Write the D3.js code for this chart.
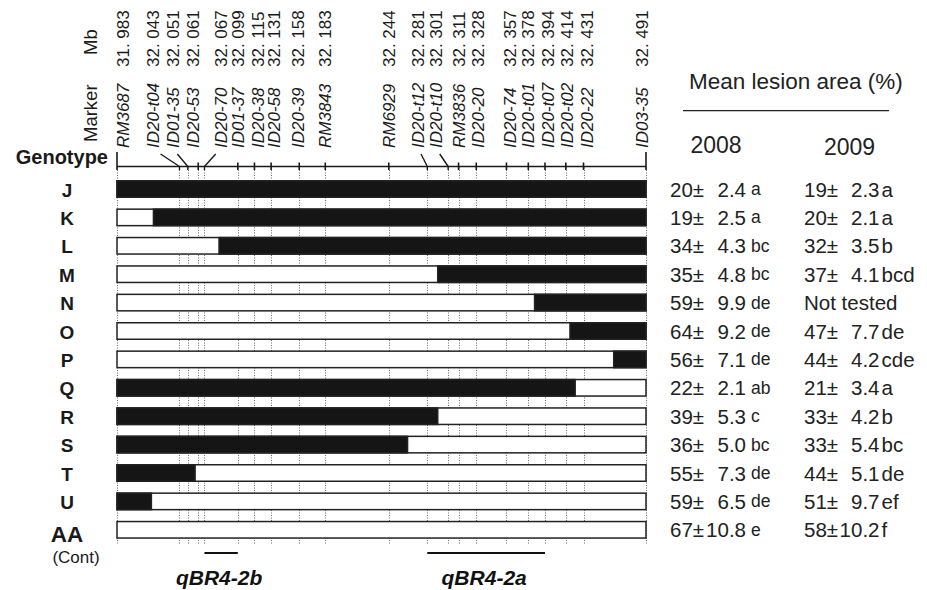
<!DOCTYPE html>
<html>
<head>
<meta charset="utf-8">
<script src="https://cdn.jsdelivr.net/npm/d3@7"></script>
<style>
  body { margin: 0; background: #fff; }
  svg { font-family: "Liberation Sans", Arial, Helvetica, sans-serif; }
</style>
</head>
<body>
<div id="chart"></div>
<script>
// markers along the chromosome segment
const markers = ["RM3687", "ID20-t04", "ID01-35", "ID20-53", "ID20-70", "ID01-37", "ID20-38", "ID20-58", "ID20-39", "RM3843",
  "RM6929", "ID20-t12", "ID20-t10", "RM3836", "ID20-20", "ID20-74", "ID20-t01", "ID20-t07", "ID20-t02", "ID20-22", "ID03-35"];
const markerMb = [31.983, 32.043, 32.051, 32.061, 32.067, 32.099, 32.115, 32.131, 32.158, 32.183,
  32.244, 32.281, 32.301, 32.311, 32.328, 32.357, 32.378, 32.394, 32.414, 32.431, 32.491];

// graphical genotypes: allele on the left side, and where it switches (Mb)
const genotypes = ["J", "K", "L", "M", "N", "O", "P", "Q", "R", "S", "T", "U", "AA"];
const leftIsBlack = [1, 0, 0, 0, 0, 0, 0, 1, 1, 1, 1, 1, 0];
const switchMb = [32.491, 32.018, 32.081, 32.291, 32.384, 32.418, 32.460, 32.423, 32.291, 32.262, 32.058, 32.016, 32.491];

// mean lesion area (%)
const mean2008 = [20, 19, 34, 35, 59, 64, 56, 22, 39, 36, 55, 59, 67];
const se2008 = [2.4, 2.5, 4.3, 4.8, 9.9, 9.2, 7.1, 2.1, 5.3, 5.0, 7.3, 6.5, 10.8];
const group2008 = ["a", "a", "bc", "bc", "de", "de", "de", "ab", "c", "bc", "de", "de", "e"];
const mean2009 = [19, 20, 32, 37, null, 47, 44, 21, 33, 33, 44, 51, 58];
const se2009 = [2.3, 2.1, 3.5, 4.1, null, 7.7, 4.2, 3.4, 4.2, 5.4, 5.1, 9.7, 10.2];
const group2009 = ["a", "a", "b", "bcd", null, "de", "cde", "a", "b", "bc", "de", "ef", "f"];

// QTL intervals
const qtlNames = ["qBR4-2b", "qBR4-2a"];
const qtlStart = [32.067, 32.281];
const qtlEnd = [32.099, 32.394];

const width = 927, height = 590;
const ink = "#1a1a1a";

const svg = d3.select("#chart").append("svg")
  .attr("width", width)
  .attr("height", height);

svg.append("rect").attr("width", width).attr("height", height).attr("fill", "#fff");

const x = d3.scaleLinear()
  .domain(d3.extent(markerMb))
  .range([117, 646]);

const y = d3.scalePoint()
  .domain(genotypes)
  .range([189, 529.8]);

const barH = 16.5;
const axisY = 166.5;

// label shifts for crowded markers
const labelNudge = {
  "RM3687": 5.5, "ID20-t04": -27, "ID01-35": -15, "ID20-53": -5.5, "ID20-70": 16,
  "ID20-38": 3, "ID20-58": 3, "ID20-39": -1.5, "ID20-t12": -9, "ID20-t10": -12,
  "ID20-20": 2, "ID20-74": 3, "ID20-t07": 2.5, "ID20-t02": 1.5, "ID20-22": 3, "ID03-35": -4.5
};
const mk = markers.map((m, i) => {
  const tx = x(markerMb[i]);
  const n = labelNudge[m] || 0;
  return { name: m, mb: markerMb[i], tx: tx, lx: tx + n, nudge: n };
});

// dotted guide lines
svg.append("g").selectAll("line")
  .data(mk)
  .join("line")
  .attr("x1", d => Math.round(d.tx) + 0.5).attr("x2", d => Math.round(d.tx) + 0.5)
  .attr("y1", axisY + 1).attr("y2", 545)
  .attr("stroke", "#6a6a6a")
  .attr("stroke-width", 1)
  .attr("stroke-dasharray", "1,1.5");

// axis line and ticks
svg.append("line")
  .attr("x1", x.range()[0]).attr("x2", x.range()[1])
  .attr("y1", axisY).attr("y2", axisY)
  .attr("stroke", ink).attr("stroke-width", 1.5);

const ticks = svg.append("g");
mk.forEach((d, i) => {
  const isEnd = i === 0 || i === mk.length - 1;
  if (Math.abs(d.nudge) > 6) {
    ticks.append("line")
      .attr("x1", d.lx + 0.3 * (d.tx - d.lx)).attr("y1", 154)
      .attr("x2", d.tx).attr("y2", axisY)
      .attr("stroke", ink).attr("stroke-width", 1.4);
    ticks.append("line")
      .attr("x1", d.tx).attr("x2", d.tx)
      .attr("y1", axisY).attr("y2", 170)
      .attr("stroke", ink).attr("stroke-width", 1.4);
  } else {
    ticks.append("line")
      .attr("x1", d.tx).attr("x2", d.tx)
      .attr("y1", isEnd ? 152 : 162.5).attr("y2", 170)
      .attr("stroke", ink).attr("stroke-width", 1.6);
  }
});

// marker names and positions
svg.append("g").selectAll("text")
  .data(mk)
  .join("text")
  .attr("transform", d => `translate(${d.lx},148) rotate(-90)`)
  .attr("dy", "0.36em")
  .attr("font-size", 17)
  .attr("font-style", "italic")
  .attr("fill", ink)
  .text(d => d.name);

svg.append("g").selectAll("text")
  .data(mk)
  .join("text")
  .attr("transform", d => `translate(${d.lx},67) rotate(-90)`)
  .attr("dy", "0.36em")
  .attr("font-size", 17)
  .attr("fill", ink)
  .text(d => d3.format(".3f")(d.mb).replace(".", ". "));

svg.append("text")
  .attr("transform", "translate(90,55) rotate(-90)")
  .attr("dy", "0.36em")
  .attr("font-size", 18.5)
  .attr("fill", ink)
  .text("Mb");

svg.append("text")
  .attr("transform", "translate(90,142) rotate(-90)")
  .attr("dy", "0.36em")
  .attr("font-size", 18.5)
  .attr("fill", ink)
  .text("Marker");

svg.append("text")
  .attr("x", 108).attr("y", 164)
  .attr("text-anchor", "end")
  .attr("font-size", 20)
  .attr("font-weight", "bold")
  .attr("fill", ink)
  .text("Genotype");

// bars
const rows = svg.append("g").selectAll("g")
  .data(genotypes)
  .join("g");

rows.append("rect")
  .attr("x", x.range()[0])
  .attr("y", d => y(d) - barH / 2)
  .attr("width", x.range()[1] - x.range()[0])
  .attr("height", barH)
  .attr("fill", "#fff")
  .attr("stroke", "#222")
  .attr("stroke-width", 1.5);

rows.each(function (g, i) {
  const a = leftIsBlack[i] ? x.range()[0] : x(switchMb[i]);
  const b = leftIsBlack[i] ? x(switchMb[i]) : x.range()[1];
  if (b - a > 0.5) {
    d3.select(this).append("rect")
      .attr("x", a).attr("y", y(g) - barH / 2)
      .attr("width", b - a).attr("height", barH)
      .attr("fill", "#151515")
      .attr("stroke", "#222")
      .attr("stroke-width", 1.5);
  }
});

// genotype labels
svg.append("g").selectAll("text")
  .data(genotypes)
  .join("text")
  .attr("x", 67)
  .attr("y", d => y(d) + (d === "AA" ? 12 : 7.5))
  .attr("text-anchor", "middle")
  .attr("font-size", d => d === "AA" ? 22.5 : 19)
  .attr("font-weight", "bold")
  .attr("fill", ink)
  .text(d => d);

svg.append("text")
  .attr("x", 76).attr("y", 563)
  .attr("text-anchor", "middle")
  .attr("font-size", 17)
  .attr("fill", ink)
  .text("(Cont)");

// QTL intervals
const qtl = svg.append("g");
qtlNames.forEach((q, i) => {
  qtl.append("line")
    .attr("x1", x(qtlStart[i])).attr("x2", x(qtlEnd[i]))
    .attr("y1", 553).attr("y2", 553)
    .attr("stroke", "#111").attr("stroke-width", 2);
  qtl.append("text")
    .attr("x", (x(qtlStart[i]) + x(qtlEnd[i])) / 2 - 2)
    .attr("y", 585)
    .attr("text-anchor", "middle")
    .attr("font-size", 21)
    .attr("font-weight", "bold")
    .attr("font-style", "italic")
    .attr("fill", "#111")
    .text(q);
});

// table of lesion area
const tbl = svg.append("g").attr("fill", "#222");
tbl.append("text")
  .attr("x", 689).attr("y", 89)
  .attr("font-size", 22.5)
  .text("Mean lesion area (%)");
svg.append("line")
  .attr("x1", 683).attr("x2", 889)
  .attr("y1", 110.7).attr("y2", 110.7)
  .attr("stroke", "#222").attr("stroke-width", 1.3);
tbl.append("text").attr("x", 690.5).attr("y", 152.5).attr("font-size", 23).text("2008");
tbl.append("text").attr("x", 824).attr("y", 155).attr("font-size", 23).text("2009");

const fs = 20.5;
genotypes.forEach((g, i) => {
  const by = y(g) + 7.5;
  tbl.append("text").attr("x", 670).attr("y", by).attr("font-size", fs).text(mean2008[i] + "±");
  tbl.append("text").attr("x", 746).attr("y", by).attr("font-size", fs)
    .attr("text-anchor", "end").text(se2008[i].toFixed(1));
  tbl.append("text").attr("x", 751).attr("y", by - 1.5).attr("font-size", 17.5).text(group2008[i]);
  if (mean2009[i] == null) {
    tbl.append("text").attr("x", 804).attr("y", by).attr("font-size", fs).text("Not tested");
  } else {
    tbl.append("text").attr("x", 804).attr("y", by).attr("font-size", fs).text(mean2009[i] + "±");
    tbl.append("text").attr("x", 879.5).attr("y", by).attr("font-size", fs)
      .attr("text-anchor", "end").text(se2009[i].toFixed(1));
    tbl.append("text").attr("x", 881.5).attr("y", by).attr("font-size", fs).text(group2009[i]);
  }
});
</script>
</body>
</html>
